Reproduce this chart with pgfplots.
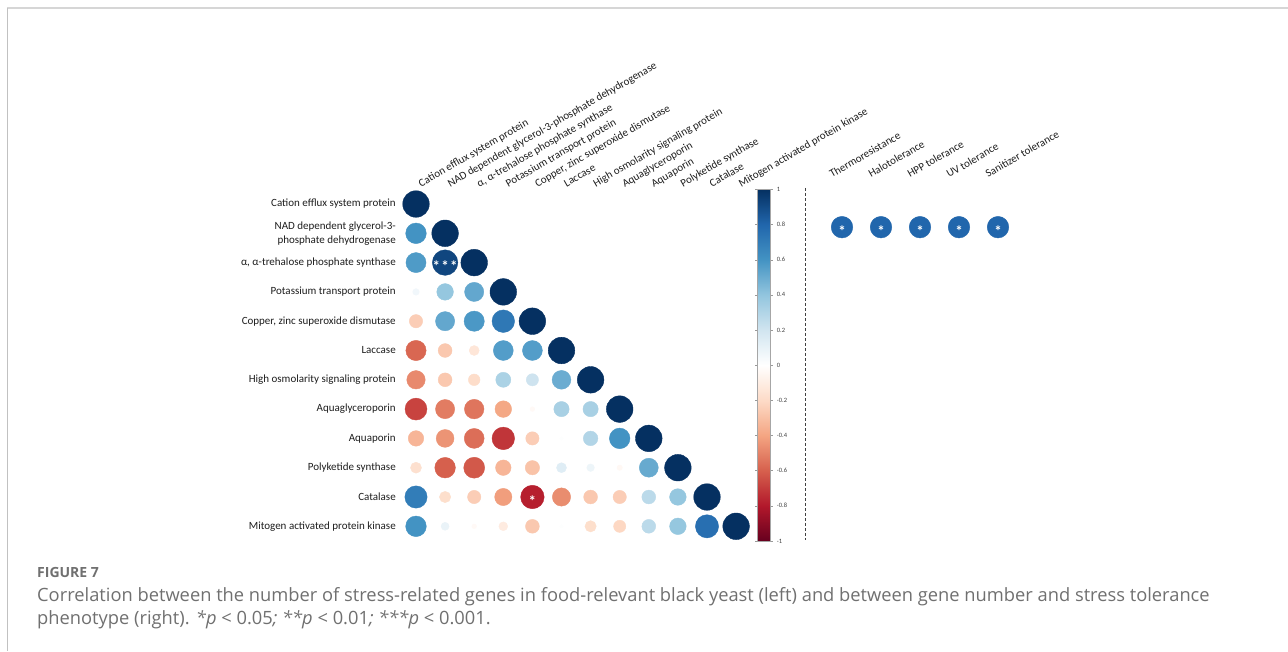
\documentclass[border=0pt]{standalone}
\usepackage{pgfplots}
\pgfplotsset{compat=1.18}
\usepackage{pgfplotstable}
\usepackage{fontspec}
\setmainfont{Carlito}
\newfontfamily\capfont{Open Sans}

\definecolor{framegray}{RGB}{214,214,214}
\definecolor{captiongray}{RGB}{112,112,112}
\definecolor{labelblack}{RGB}{30,30,30}

\pgfplotsset{
  colormap={RdBu}{rgb255=(103,0,31) rgb255=(178,24,43) rgb255=(214,96,77)
    rgb255=(244,165,130) rgb255=(253,219,199) rgb255=(255,255,255)
    rgb255=(209,229,240) rgb255=(146,197,222) rgb255=(67,147,195)
    rgb255=(33,102,172) rgb255=(5,48,97)},
}
\tikzset{
  star label/.style={anchor=center, inner sep=0pt, yshift=-4pt,
    text=white, font=\bfseries\fontsize{15}{15}\selectfont},
}

% lower triangle of the gene-gene correlation matrix (col, row, r)
\pgfplotstableread{
col row r
1 1 1
1 2 0.60
2 2 1
1 3 0.57
2 3 0.92
3 3 1
1 4 0.06
2 4 0.39
3 4 0.52
4 4 1
1 5 -0.25
2 5 0.52
3 5 0.58
4 5 0.72
5 5 1
1 6 -0.58
2 6 -0.27
3 6 -0.14
4 6 0.56
5 6 0.56
6 6 1
1 7 -0.48
2 7 -0.27
3 7 -0.19
4 7 0.32
5 7 0.21
6 7 0.50
7 7 1
1 8 -0.68
2 8 -0.52
3 8 -0.54
4 8 -0.39
5 8 -0.03
6 8 0.33
7 8 0.33
8 8 1
1 9 -0.34
2 9 -0.45
3 9 -0.56
4 9 -0.72
5 9 -0.25
6 9 0.01
7 9 0.30
8 9 0.60
9 9 1
1 10 -0.17
2 10 -0.60
3 10 -0.62
4 10 -0.34
5 10 -0.29
6 10 0.14
7 10 0.08
8 10 -0.04
9 10 0.51
10 10 1
1 11 0.70
2 11 -0.18
3 11 -0.25
4 11 -0.42
5 11 -0.78
6 11 -0.47
7 11 -0.27
8 11 -0.25
9 11 0.27
10 11 0.39
11 11 1
1 12 0.60
2 12 0.09
3 12 -0.03
4 12 -0.11
5 12 -0.27
6 12 0.01
7 12 -0.18
8 12 -0.21
9 12 0.27
10 12 0.39
11 12 0.76
12 12 1
}\corrdata

% gene number vs. stress tolerance phenotype
\pgfplotstableread{
col y r
1 0.869 0.80
2 0.869 0.80
3 0.869 0.80
4 0.869 0.80
5 0.869 0.80
}\tolerancedata

\begin{document}
\begin{tikzpicture}
\useasboundingbox (0pt,-651pt) rectangle (1288pt,0pt);
\fill[white] (0pt,-651pt) rectangle (1288pt,0pt);
\draw[framegray, line width=1.6pt] (7pt,-8pt) -- (1288pt,-8pt);
\draw[framegray!90!black, line width=0.9pt] (7pt,-8pt) -- (7pt,-651pt);

\begin{axis}[
  at={(401.45pt,-189.35pt)}, anchor=north west,
  x=29.1pt, y=29.3pt,
  xmin=0.5, xmax=12.5, ymin=0.5, ymax=12.5,
  clip=false,
  axis line style={draw=none},
  major tick length=0pt,
  tick style={draw=none},
  xtick={1,...,12},
  xticklabels={Cation efflux system protein,
    NAD dependent glycerol-3-phosphate dehydrogenase,
    {α, α-trehalose phosphate synthase},
    Potassium transport protein,
    {Copper, zinc superoxide dismutase},
    Laccase,
    High osmolarity signaling protein,
    Aquaglyceroporin,
    Aquaporin,
    Polyketide synthase,
    Catalase,
    Mitogen activated protein kinase},
  xticklabel pos=upper,
  xticklabel style={inner sep=0pt, xshift=5pt, yshift=2pt, rotate=30,
    anchor=base west, text=labelblack, font=\fontsize{11}{13}\selectfont},
  ytick={1,...,12},
  yticklabels={Mitogen activated protein kinase,
    Catalase,
    Polyketide synthase,
    Aquaporin,
    Aquaglyceroporin,
    High osmolarity signaling protein,
    Laccase,
    {Copper, zinc superoxide dismutase},
    Potassium transport protein,
    {α, α-trehalose phosphate synthase},
    {NAD dependent glycerol-3-\\phosphate dehydrogenase},
    Cation efflux system protein},
  yticklabel style={inner sep=0pt, xshift=-5.5pt, anchor=east, align=right,
    text=labelblack, font=\fontsize{11}{14}\selectfont},
  colormap name=RdBu,
  point meta min=-1, point meta max=1,
  colorbar right,
  colorbar shift/.style={},
  colorbar style={
    at={(parent axis.north east)}, anchor=north west, xshift=6.5pt,
    width=13.5pt,
    axis line style={draw=gray!70, line width=0.4pt},
    ytick={-1,-0.8,-0.6,-0.4,-0.2,0,0.2,0.4,0.6,0.8,1},
    yticklabels={-1,-0.8,-0.6,-0.4,-0.2,0,0.2,0.4,0.6,0.8,1},
    major tick length=2pt,
    tick align=outside,
    tick style={draw=gray!80, line width=0.3pt},
    yticklabel style={inner sep=0pt, xshift=4pt, anchor=west, text=black!75,
      font=\fontsize{6.5}{6.5}\selectfont},
  },
]
\addplot[scatter, only marks, mark=*,
  point meta=\thisrow{r},
  scatter/use mapped color={draw=mapped color, fill=mapped color},
  visualization depends on={13.3*sqrt(abs(\thisrow{r})) \as \rad},
  scatter/@pre marker code/.append style={/tikz/mark size=\rad},
] table[x=col, y expr=13-\thisrow{row}] {\corrdata};
% significance stars
\addplot[only marks, mark=none,
  nodes near coords, point meta=explicit symbolic,
  every node near coord/.append style={star label},
] coordinates {(2,10) [*\kern1.2pt*\kern1.2pt*] (5,2) [*]};
\end{axis}

\begin{axis}[
  at={(822.5pt,-180pt)}, anchor=north west,
  x=39pt, y=360pt,
  xmin=0.5, xmax=5.5, ymin=0, ymax=1,
  clip=false,
  axis line style={draw=none},
  major tick length=0pt,
  tick style={draw=none},
  xtick={1,...,5},
  xticklabels={Thermoresistance,Halotolerance,HPP tolerance,UV tolerance,Sanitizer tolerance},
  xticklabel pos=upper,
  xticklabel style={inner sep=0pt, xshift=-10pt, yshift=2pt, rotate=30,
    anchor=base west, text=labelblack, font=\fontsize{11}{13}\selectfont},
  ytick=\empty,
  colormap name=RdBu,
  point meta min=-1, point meta max=1,
]
\addplot[black!75, line width=0.8pt, dash pattern=on 3pt off 2pt]
  coordinates {(0.051,0.978) (0.051,0)};
\addplot[scatter, only marks, mark=*,
  point meta=\thisrow{r},
  scatter/use mapped color={draw=mapped color, fill=mapped color},
  visualization depends on={12.07*sqrt(abs(\thisrow{r})) \as \rad},
  scatter/@pre marker code/.append style={/tikz/mark size=\rad},
] table[x=col, y=y] {\tolerancedata};
\addplot[only marks, mark=none,
  nodes near coords, point meta=explicit symbolic,
  every node near coord/.append style={star label},
] coordinates {(1,0.869) [*] (2,0.869) [*] (3,0.869) [*] (4,0.869) [*] (5,0.869) [*]};
\end{axis}

\node[anchor=base west, inner sep=0pt, text=captiongray,
  font=\capfont\bfseries\fontsize{14}{16}\selectfont] at (37pt,-577pt) {FIGURE 7};
\node[anchor=base west, inner sep=0pt, text=captiongray,
  font=\capfont\fontsize{18.3}{21}\selectfont] at (37pt,-601pt)
  {Correlation between the number of stress-related genes in food-relevant black yeast (left) and between gene number and stress tolerance};
\node[anchor=base west, inner sep=0pt, text=captiongray,
  font=\capfont\fontsize{18.3}{21}\selectfont] at (37pt,-624pt)
  {phenotype (right). \textit{*p} < 0.05\textit{;} \textit{**p} < 0.01\textit{;} \textit{***p} < 0.001.};
\end{tikzpicture}
\end{document}
